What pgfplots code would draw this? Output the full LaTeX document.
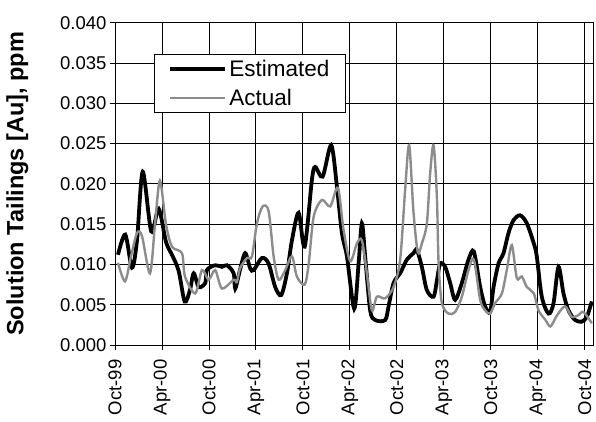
\documentclass[border=0pt]{standalone}
\usepackage{fontspec}
\setmainfont{Liberation Sans}
\usepackage{pgfplots}
\pgfplotsset{compat=1.18}

\definecolor{actualgray}{RGB}{140,140,140}

% Estimated solution tailings (months after Oct-99, ppm Au)
\newcommand{\estimated}{
(0.38,0.0112) (1.31,0.0137) (2.17,0.0096) (2.81,0.0130) (3.54,0.0215)
(4.63,0.0141) (5.58,0.0169) (6.51,0.0128) (7.28,0.0112) (8.13,0.0092)
(8.90,0.0054) (9.57,0.0068) (10.05,0.0089) (10.69,0.0072) (11.53,0.0077)
(11.74,0.0093) (12.80,0.0099) (13.66,0.0097) (14.30,0.0099) (15.15,0.0089)
(15.36,0.0070) (15.96,0.0093) (16.63,0.0114) (17.27,0.0095) (17.71,0.0093)
(18.77,0.0108) (19.62,0.0101) (20.46,0.0072) (21.23,0.0062) (21.96,0.0089)
(22.60,0.0130) (23.45,0.0164) (24.22,0.0122) (25.15,0.0205) (25.57,0.0221)
(26.52,0.0209) (27.61,0.0248) (28.34,0.0197) (28.98,0.0139) (29.62,0.0110)
(30.55,0.0045) (31.11,0.0101) (31.53,0.0151) (31.95,0.0110)
(32.59,0.0043) (33.23,0.0031) (34.51,0.0031) (34.94,0.0048) (35.58,0.0077)
(36.42,0.0089) (37.28,0.0106) (38.13,0.0114) (38.55,0.0118) (39.19,0.0097)
(39.83,0.0068) (40.69,0.0060) (41.11,0.0080) (41.53,0.0101) (42.17,0.0097)
(42.81,0.0077) (43.44,0.0056) (44.30,0.0077) (45.15,0.0106) (45.83,0.0116)
(46.64,0.0072) (47.27,0.0048) (47.91,0.0041) (48.35,0.0072) (48.98,0.0101)
(49.62,0.0114) (50.26,0.0139) (50.90,0.0155) (51.74,0.0161) (52.60,0.0151)
(53.49,0.0126) (53.87,0.0110) (54.51,0.0060) (55.37,0.0039) (56.01,0.0052)
(56.64,0.0097) (57.28,0.0064) (57.92,0.0043) (58.76,0.0031) (59.62,0.0029)
(60.26,0.0035) (60.90,0.0054)
}

% Actual solution tailings (months after Oct-99, ppm Au)
\newcommand{\actual}{
(0.38,0.0102) (1.28,0.0079) (2.04,0.0110) (2.81,0.0139) (3.45,0.0135)
(4.47,0.0089) (5.11,0.0150) (5.74,0.0204) (6.51,0.0150) (7.28,0.0122)
(8.55,0.0114) (8.94,0.0085) (10.25,0.0064) (11.11,0.0093) (11.96,0.0081)
(12.80,0.0093) (13.66,0.0070) (15.15,0.0081) (15.57,0.0078) (15.96,0.0095)
(16.85,0.0108) (17.49,0.0110) (18.13,0.0151) (18.86,0.0172) (19.62,0.0166)
(20.26,0.0110) (20.90,0.0081) (21.74,0.0093) (22.60,0.0110) (23.23,0.0085)
(24.22,0.0075) (24.73,0.0100) (25.37,0.0159) (26.43,0.0180) (27.49,0.0172)
(28.47,0.0195) (29.19,0.0143) (30.04,0.0104) (30.89,0.0126) (31.53,0.0130)
(32.17,0.0089) (32.81,0.0043) (33.45,0.0060) (34.51,0.0058) (35.58,0.0072)
(36.42,0.0106) (37.06,0.0193) (37.57,0.0248) (38.13,0.0164) (38.68,0.0115)
(39.19,0.0126) (39.83,0.0151) (40.25,0.0213) (40.69,0.0248) (41.11,0.0184)
(41.33,0.0101) (41.75,0.0052) (42.60,0.0039) (43.44,0.0041) (44.30,0.0060)
(45.15,0.0093) (45.83,0.0106) (46.64,0.0056) (47.27,0.0043) (47.91,0.0039)
(48.55,0.0052) (49.41,0.0064) (50.04,0.0093) (50.68,0.0124) (51.32,0.0083)
(51.96,0.0085) (52.60,0.0072) (53.49,0.0064) (54.09,0.0043) (54.98,0.0031)
(55.62,0.0023) (56.47,0.0037) (57.49,0.0048) (58.34,0.0035) (59.19,0.0037)
(59.83,0.0041) (60.90,0.0027)
}

\begin{document}
\begin{tikzpicture}
\useasboundingbox (-115pt,-76pt) rectangle (481pt,345pt);
\begin{axis}[
  at={(0pt,0pt)}, anchor=south west,
  scale only axis,
  width=478pt, height=322.3pt,
  xmin=0, xmax=61.05,
  ymin=0, ymax=0.04,
  xtick={0,6,...,60},
  xticklabels={Oct-99,Apr-00,Oct-00,Apr-01,Oct-01,Apr-02,Oct-02,Apr-03,Oct-03,Apr-04,Oct-04},
  ytick={0,0.005,...,0.0401},
  scaled y ticks=false,
  yticklabel style={/pgf/number format/.cd, fixed, fixed zerofill, precision=3, assume math mode=true},
  ticklabel style={font=\fontsize{18.5}{20}\selectfont},
  xticklabel style={rotate=90, anchor=east, xshift=-6pt},
  tick align=outside,
  major tick length=5pt,
  tick style={black, line width=0.9pt},
  xtick pos=bottom, ytick pos=left,
  grid=major,
  major grid style={black, line width=0.9pt},
  axis line style={black, line width=0.9pt},
  ylabel={\bfseries Solution Tailings [Au], ppm},
  every axis y label/.style={at={(rel axis cs:0,0.5)}, rotate=90, anchor=south,
    yshift=83pt, font=\fontsize{23.5}{25}\selectfont},
  legend style={at={(rel axis cs:0.0816,0.904)}, anchor=north west,
    draw=black, line width=0.9pt, fill=white,
    font=\fontsize{22.5}{24}\selectfont,
    inner xsep=14pt, inner ysep=4pt,
    row sep=7pt,
    cells={anchor=west}},
  legend image code/.code={\draw[#1] (0pt,0pt) -- (55pt,0pt);},
  clip=true,
]
\addplot[black, line width=3.8pt, smooth, tension=0.5] coordinates {\estimated};
\addlegendentry{Estimated}
\addplot[actualgray, line width=2.4pt, smooth, tension=0.5] coordinates {\actual};
\addlegendentry{Actual}
\end{axis}
\end{tikzpicture}
\end{document}
